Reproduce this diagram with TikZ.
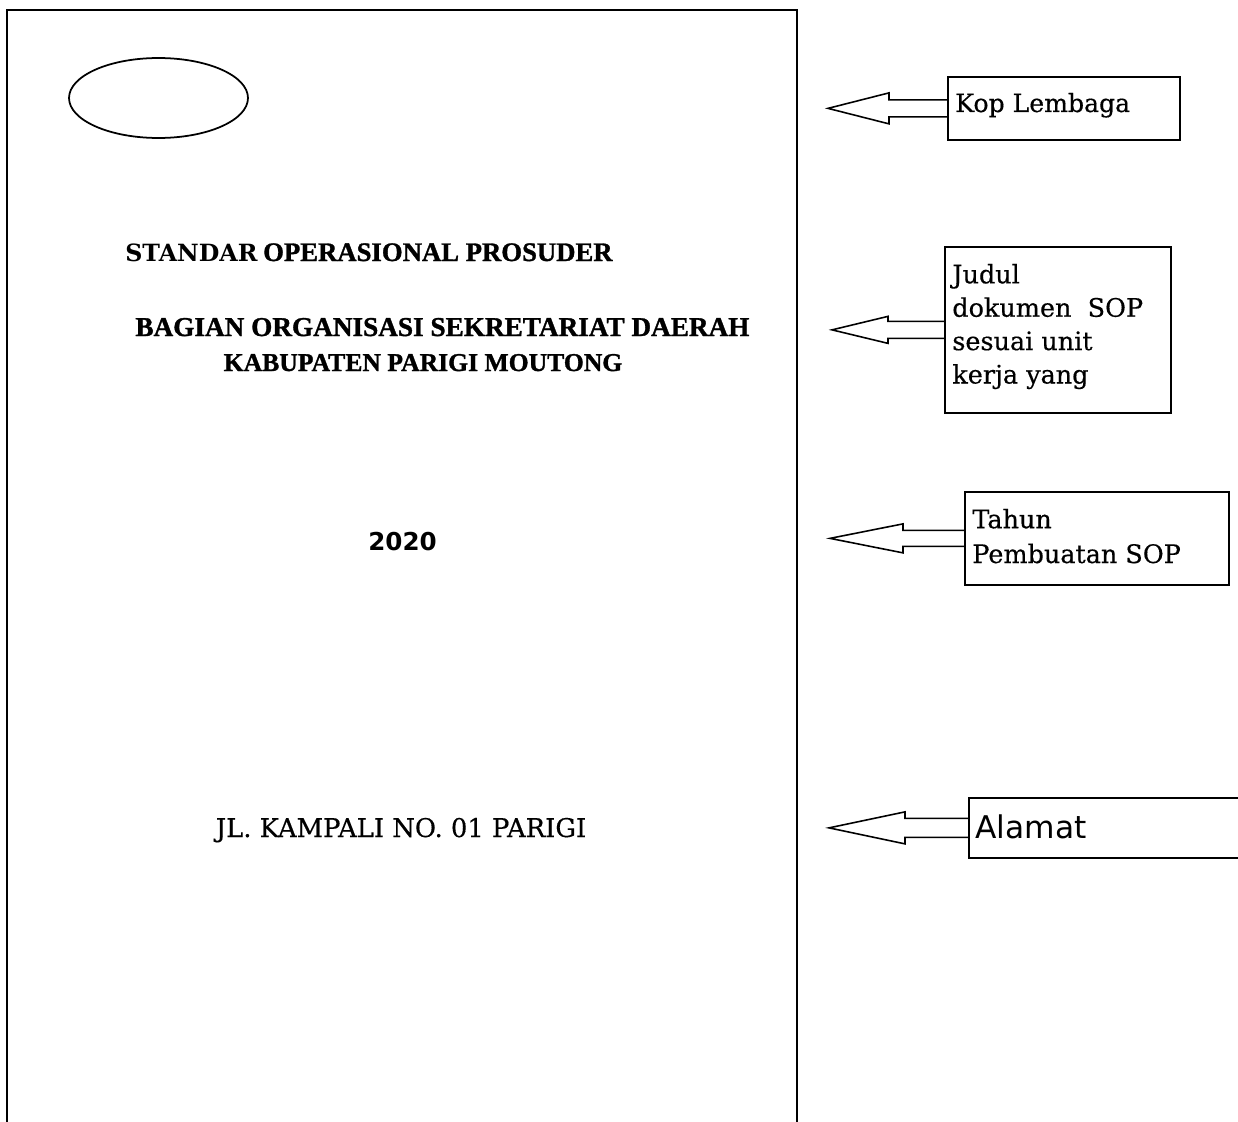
\documentclass[tikz,border=0pt]{standalone}
\usepackage{fontspec}
\setmainfont{DejaVu Serif}[UprightFeatures={FakeBold=0.4}]
\newfontfamily\timesfam{Liberation Serif}[BoldFeatures={FakeBold=1.2}]
\newfontfamily\sansfam{DejaVu Sans}
\usetikzlibrary{shapes.geometric}
\begin{document}
\begin{tikzpicture}[x=0.02cm,y=-0.02cm,
  pageframe/.style={line width=1.15pt},
  notebox/.style={draw,line width=1pt,rectangle,inner sep=0pt,anchor=north west},
  blockarrow/.style={draw,line width=0.9pt,line join=miter},
  lbl/.style={inner sep=0pt,anchor=base west,align=left,font=\fontsize{14.3}{19}\selectfont},
  ttl/.style={inner sep=0pt,anchor=base,font=\timesfam\bfseries\fontsize{15.5}{18}\selectfont}]
\useasboundingbox (0,0) rectangle (1238,1122);
% page
\draw[pageframe] (7,1140) -- (7,10) -- (797,10) -- (797,1140);
\node[draw,ellipse,line width=1pt,inner sep=0pt,minimum width=3.58cm,minimum height=1.6cm] (logo) at (158.5,98) {};
% titles
\node[inner sep=0pt,anchor=base west] (std) at (125,261)
  {{\bfseries\fontsize{13.5}{16}\selectfont STANDAR} {\timesfam\bfseries\fontsize{15.2}{18}\selectfont OPERASIONAL PROSUDER}};
\node[ttl] (bag) at (442.5,336) {BAGIAN ORGANISASI SEKRETARIAT DAERAH};
\node[ttl,font=\timesfam\bfseries\fontsize{14.6}{18}\selectfont] (kab) at (423,371) {KABUPATEN PARIGI MOUTONG};
\node[inner sep=0pt,anchor=base,font=\sansfam\bfseries\fontsize{14}{17}\selectfont] (year) at (402.5,550) {2020};
\node[inner sep=0pt,anchor=base,font=\fontsize{14.7}{17}\selectfont] (addr) at (401,837) {JL. KAMPALI NO. 01 PARIGI};
% boxes
\node[notebox,minimum width=4.64cm,minimum height=1.26cm] (kop) at (947,76) {};
\node[notebox,minimum width=4.52cm,minimum height=3.32cm] (judul) at (944,246) {};
\node[notebox,minimum width=5.28cm,minimum height=1.86cm] (tahun) at (964,491) {};
\node[notebox,minimum width=6.64cm,minimum height=1.2cm] (alamat) at (968,797) {};
% box texts
\node[lbl] (kopt) at (955,112) {Kop Lembaga};
\node[lbl,font=\fontsize{14.5}{19}\selectfont] (judult) at (952,383.5) {Judul\\dokumen~~SOP\\sesuai unit\\kerja yang};
\node[lbl,font=\fontsize{14.5}{19.8}\selectfont] (tahunt) at (972,563) {Tahun\\Pembuatan SOP};
\node[inner sep=0pt,anchor=base west,font=\sansfam\fontsize{17.8}{20}\selectfont] (alamatt) at (975,838) {Alamat};
% arrows
\draw[blockarrow,shift={(kop.west)}] (0,8.5) -- (-58,8.5) -- (-58,15.5) -- (-119,0) -- (-58,-15.5) -- (-58,-8.5) -- (0,-8.5);
\draw[blockarrow,shift={(judul.west)}] (0,8.5) -- (-56,8.5) -- (-56,13.5) -- (-112,0) -- (-56,-13.5) -- (-56,-8.5) -- (0,-8.5);
\draw[blockarrow,shift={(tahun.west)}] (0,8) -- (-61,8) -- (-61,14.5) -- (-134,0) -- (-61,-14.5) -- (-61,-8) -- (0,-8);
\draw[blockarrow,shift={(alamat.west)}] (0,9.5) -- (-63,9.5) -- (-63,16) -- (-139,0) -- (-63,-16) -- (-63,-9.5) -- (0,-9.5);
\end{tikzpicture}
\end{document}
